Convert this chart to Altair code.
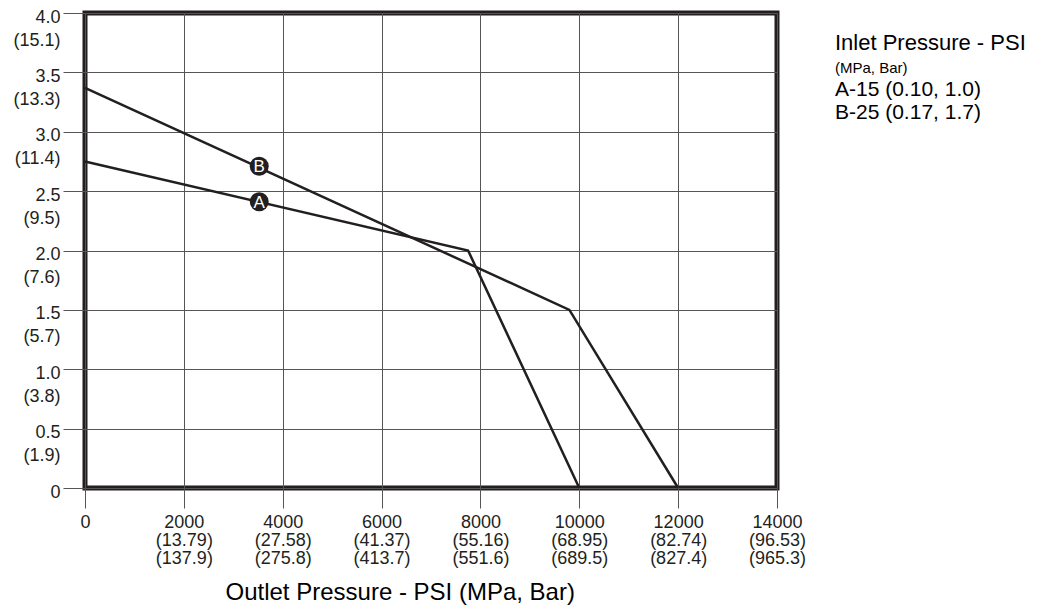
import json
import altair as alt
import pandas as pd

# ---- data ----
x_ticks = [0, 2000, 4000, 6000, 8000, 10000, 12000, 14000]
x_main = ["0", "2000", "4000", "6000", "8000", "10000", "12000", "14000"]
x_mpa = ["", "(13.79)", "(27.58)", "(41.37)", "(55.16)", "(68.95)", "(82.74)", "(96.53)"]
x_bar = ["", "(137.9)", "(275.8)", "(413.7)", "(551.6)", "(689.5)", "(827.4)", "(965.3)"]

y_ticks = [0, 0.5, 1.0, 1.5, 2.0, 2.5, 3.0, 3.5, 4.0]
y_main = ["0", "0.5", "1.0", "1.5", "2.0", "2.5", "3.0", "3.5", "4.0"]
y_sub = ["", "(1.9)", "(3.8)", "(5.7)", "(7.6)", "(9.5)", "(11.4)", "(13.3)", "(15.1)"]

series_a_x = [0, 7750, 10000]
series_a_y = [2.75, 2.0, 0]
series_b_x = [0, 9800, 12000]
series_b_y = [3.37, 1.5, 0]

marker_labels = ["A", "B"]
marker_x = [3525, 3525]
marker_y = [2.41, 2.71]

x_title = "Outlet Pressure - PSI (MPa, Bar)"
legend_title = "Inlet Pressure - PSI"
legend_sub = "(MPa, Bar)"
legend_items = ["A-15 (0.10, 1.0)", "B-25 (0.17, 1.7)"]

FONT = "Liberation Sans"
INK = "#231f20"

lines_df = pd.DataFrame({
    "series": ["A"] * len(series_a_x) + ["B"] * len(series_b_x),
    "x": series_a_x + series_b_x,
    "y": series_a_y + series_b_y,
    "order": list(range(len(series_a_x))) + list(range(len(series_b_x))),
})
markers_df = pd.DataFrame({"label": marker_labels, "x": marker_x, "y": marker_y})

xt = json.dumps(x_ticks)
x_label_expr = (
    f"datum.value == 0 ? {json.dumps(x_main)}[0] : ["
    f"{json.dumps(x_main)}[indexof({xt}, datum.value)], "
    f"{json.dumps(x_mpa)}[indexof({xt}, datum.value)], "
    f"{json.dumps(x_bar)}[indexof({xt}, datum.value)]]"
)
yt = json.dumps(y_ticks)
y_label_expr = (
    f"[{json.dumps(y_main)}[indexof({yt}, datum.value)], "
    f"{json.dumps(y_sub)}[indexof({yt}, datum.value)]]"
)

x_scale = alt.Scale(domain=[0, 14000], nice=False, zero=True)
y_scale = alt.Scale(domain=[0, 4], nice=False, zero=True)

x_axis = alt.Axis(
    values=x_ticks, labelExpr=x_label_expr, title=x_title, grid=True,
    domain=False, tickSize=20, tickColor="#555", gridColor="#555",
    labelFont=FONT, labelFontSize=18, labelColor=INK, labelLineHeight=18,
    labelBaseline="top", labelPadding=5, labelAlign="center",
    titleFont=FONT, titleFontSize=24, titleFontWeight="normal", titleColor="#000",
    titleAlign="left", titleX=140, titleY=111, titleBaseline="alphabetic",
)
y_axis = alt.Axis(
    values=y_ticks, labelExpr=y_label_expr, title=None, grid=True,
    domain=False, tickSize=22, tickColor="#555", gridColor="#555",
    labelFont=FONT, labelFontSize=18, labelColor=INK, labelLineHeight=23,
    labelBaseline="top", labelOffset=-5, labelPadding=3,
)

base = alt.Chart(lines_df)
lines = base.mark_line(color=INK, strokeWidth=2.5).encode(
    x=alt.X("x:Q", scale=x_scale, axis=x_axis),
    y=alt.Y("y:Q", scale=y_scale, axis=y_axis),
    detail="series:N",
    order="order:Q",
)
dots = alt.Chart(markers_df).mark_circle(color=INK, opacity=1, size=360).encode(
    x=alt.X("x:Q", scale=x_scale), y=alt.Y("y:Q", scale=y_scale)
)
dot_text = alt.Chart(markers_df).mark_text(
    color="white", font=FONT, fontSize=17, baseline="middle", align="center", dy=1
).encode(x=alt.X("x:Q", scale=x_scale), y=alt.Y("y:Q", scale=y_scale), text="label:N")

def note(txt, y, size):
    return alt.Chart(pd.DataFrame({"t": [txt]})).mark_text(
        font=FONT, fontSize=size, align="left", baseline="middle", color="#000"
    ).encode(x=alt.value(750), y=alt.value(y), text="t:N")

notes = [
    note(legend_title, 30, 22),
    note(legend_sub, 55, 15),
    note(legend_items[0], 77, 21),
    note(legend_items[1], 100, 21),
]

chart = alt.layer(lines, dots, dot_text, *notes).properties(
    width=692, height=475,
    autosize=alt.AutoSizeParams(type="none"),
    padding={"left": 77, "top": 5, "right": 264, "bottom": 119},
).configure_view(
    stroke=INK, strokeWidth=5
)

chart.save("out.html", embed_options={"renderer": "svg", "actions": False})
